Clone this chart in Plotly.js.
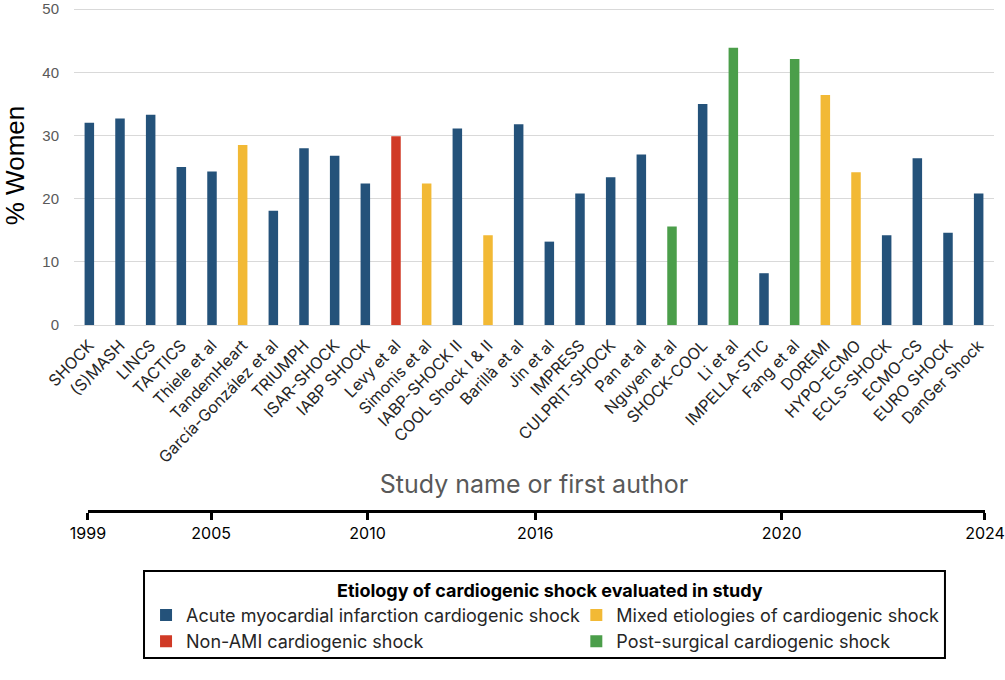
<!DOCTYPE html>
<html>
<head>
<meta charset="utf-8">
<script src="https://cdn.plot.ly/plotly-3.0.1.min.js"></script>
<style>html,body{margin:0;padding:0;background:#fff;}#chart{width:1005px;height:680px;}</style>
</head>
<body>
<div id="chart"></div>
<script>
// ---- data ----
var studies = ['SHOCK','(S)MASH','LINCS','TACTICS','Thiele et al','TandemHeart','García-González et al','TRIUMPH','ISAR-SHOCK','IABP SHOCK','Levy et al','Simonis et al','IABP-SHOCK II','COOL Shock I & II','Barillà et al','Jin et al','IMPRESS','CULPRIT-SHOCK','Pan et al','Nguyen et al','SHOCK-COOL','Li et al','IMPELLA-STIC','Fang et al','DOREMI','HYPO-ECMO','ECLS-SHOCK','ECMO-CS','EURO SHOCK','DanGer Shock'];
var pctWomen = [32.0, 32.7, 33.3, 25.0, 24.3, 28.5, 18.1, 28.0, 26.8, 22.4, 29.9, 22.4, 31.1, 14.2, 31.8, 13.2, 20.8, 23.4, 27.0, 15.6, 35.0, 43.9, 8.2, 42.1, 36.4, 24.2, 14.2, 26.4, 14.6, 20.8];
var etiology = ['AMI','AMI','AMI','AMI','AMI','Mixed','AMI','AMI','AMI','AMI','NonAMI','Mixed','AMI','Mixed','AMI','AMI','AMI','AMI','AMI','Post','AMI','Post','AMI','Post','Mixed','Mixed','AMI','AMI','AMI','AMI'];
var etiologyKeys = ['AMI','NonAMI','Mixed','Post'];
var etiologyNames = ['Acute myocardial infarction cardiogenic shock','Non-AMI cardiogenic shock','Mixed etiologies of cardiogenic shock','Post-surgical cardiogenic shock'];
var etiologyColors = ['#24527a','#d03a26','#f2b935','#4b9e4a'];
var etiologyLegend = ['legend','legend','legend2','legend2'];
var legendTitle = 'Etiology of cardiogenic shock evaluated in study';
var yTicks = [0, 10, 20, 30, 40, 50];
// timeline: year labels and their position along the study sequence (study index units)
var timelineYears = ['1999','2005','2010','2016','2020','2024'];
var timelinePos = [0, 4.01, 9.1, 14.56, 22.58, 29.2];

var FONT = 'Inter, "Open Sans", sans-serif';

var traces = etiologyKeys.map(function(k, i){
  var xs = [], ys = [];
  studies.forEach(function(s, j){ if (etiology[j] === k) { xs.push(s); ys.push(pctWomen[j]); } });
  return {
    type: 'bar', x: xs, y: ys, name: etiologyNames[i],
    marker: {color: etiologyColors[i]}, width: 0.31,
    legend: etiologyLegend[i], hoverinfo: 'x+y'
  };
});
traces.push({
  type: 'scatter', mode: 'none', x: timelinePos, y: timelinePos.map(function(){return 0;}),
  xaxis: 'x2', yaxis: 'y2', showlegend: false, hoverinfo: 'skip'
});

var layout = {
  width: 1005, height: 680,
  margin: {l: 74, r: 11, t: 6, b: 20},
  paper_bgcolor: '#fff', plot_bgcolor: '#fff',
  font: {family: FONT, color: '#262626'},
  barmode: 'overlay',
  showlegend: true,
  xaxis: {
    type: 'category', categoryorder: 'array', categoryarray: studies,
    domain: [0, 1], anchor: 'y',
    tickangle: -46, tickfont: {family: FONT, size: 16, color: '#262626'},
    ticklabelstandoff: 7,
    showgrid: false, zeroline: false, showline: false, ticks: '',
    title: {text: 'Study name or first author', font: {family: FONT, size: 25, color: '#595959'}, standoff: 9}
  },
  yaxis: {
    domain: [0.5122, 1], range: [0, 50.5], tickmode: 'array', tickvals: yTicks,
    showgrid: true, gridcolor: '#d9d9d9', gridwidth: 1,
    zeroline: true, zerolinecolor: '#d9d9d9', zerolinewidth: 1,
    showline: false, ticks: '', ticklabelstandoff: 14, ticklabeloverflow: 'allow',
    tickfont: {family: 'Liberation Sans, Arial, sans-serif', size: 15, color: '#595959'},
    title: {text: '% Women', font: {family: 'Liberation Sans, Arial, sans-serif', size: 26, color: '#000'}, standoff: 20}
  },
  xaxis2: {
    domain: [0.0152, 0.9902], anchor: 'y2', range: [timelinePos[0], timelinePos[timelinePos.length-1]],
    tickmode: 'array', tickvals: timelinePos, ticktext: timelineYears,
    showline: true, linecolor: '#000', linewidth: 3,
    ticks: 'outside', ticklen: 7, tickwidth: 3, tickcolor: '#000',
    showgrid: false, zeroline: false,
    tickfont: {family: FONT, size: 16, color: '#000'}
  },
  yaxis2: {domain: [0.2294, 0.26], visible: false, range: [0, 1], fixedrange: true},
  legend: {
    x: 0.0783, y: 0.0968, xanchor: 'left', yanchor: 'top', orientation: 'v',
    font: {family: FONT, size: 18, color: '#262626'}, bgcolor: 'rgba(0,0,0,0)', borderwidth: 0,
    traceorder: 'normal'
  },
  legend2: {
    x: 0.546, y: 0.0968, xanchor: 'left', yanchor: 'top', orientation: 'v',
    font: {family: FONT, size: 18, color: '#262626'}, bgcolor: 'rgba(0,0,0,0)', borderwidth: 0,
    traceorder: 'normal'
  },
  shapes: [{
    type: 'rect', xref: 'paper', yref: 'paper', x0: 0.0761, x1: 0.9467, y0: 0.0031, y1: 0.1361,
    line: {color: '#000', width: 2}, fillcolor: 'rgba(0,0,0,0)'
  }],
  annotations: [{
    text: '<b>' + legendTitle + '</b>', xref: 'paper', yref: 'paper', x: 0.517, y: 0.1070,
    xanchor: 'center', yanchor: 'middle', showarrow: false,
    font: {family: FONT, size: 18, color: '#000'}
  }]
};

Plotly.newPlot('chart', traces, layout, {displayModeBar: false, staticPlot: true});
</script>
</body>
</html>
